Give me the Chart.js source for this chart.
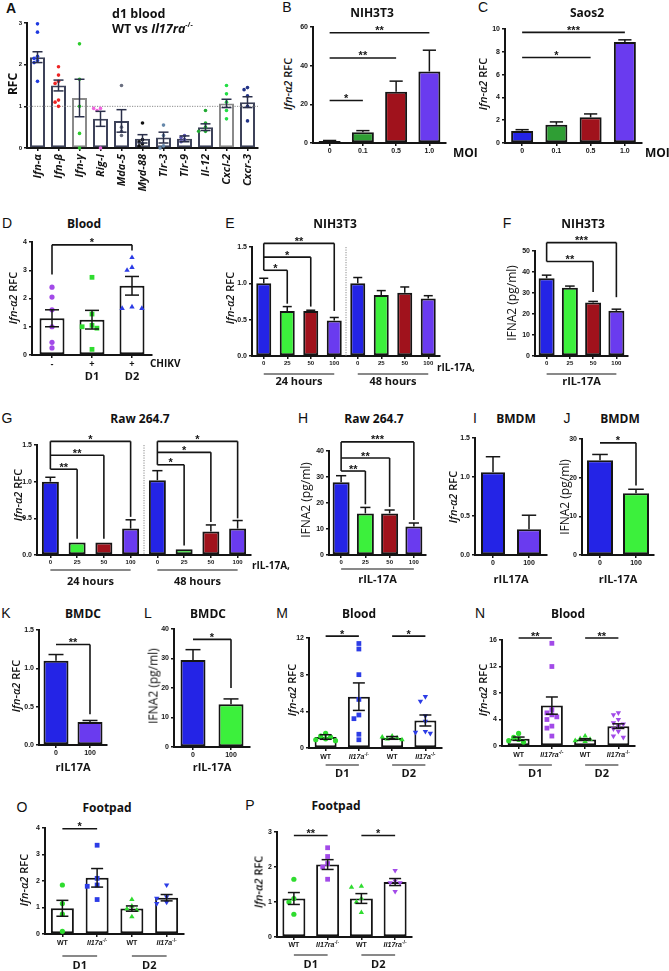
<!DOCTYPE html>
<html><head><meta charset="utf-8">
<script src="https://cdn.jsdelivr.net/npm/chart.js@4.4.1/dist/chart.umd.min.js"></script>
<style>
body{margin:0;background:#fff;width:669px;height:971px;position:relative;overflow:hidden;font-family:'Open Sans',sans-serif;color:#111}
.t{position:absolute;white-space:nowrap;font-weight:700;font-size:12px;transform:translate(-50%,-50%)}
.tl{position:absolute;white-space:nowrap;font-weight:700;font-size:12.5px;transform:translate(0,-50%)}
.lt{position:absolute;font-family:'Liberation Sans',Arial,sans-serif;font-size:14px;transform:translate(-50%,-50%)}
.yl{position:absolute;white-space:nowrap;transform:translate(-50%,-50%) rotate(-90deg);font-size:11px;font-weight:600}
.rl{position:absolute;white-space:nowrap;font-weight:700;transform:translate(0,-50%)}
canvas{position:absolute}
</style></head><body>
<script>
// ---------- DATA ----------
const aCats=['Ifn-α','Ifn-β','Ifn-γ','Rig-I','Mda-5','Myd-88','Tlr-3','Tlr-9','Il-12','Cxcl-2','Cxcr-3'];
const aVals=[2.18,1.5,1.2,0.7,0.65,0.22,0.25,0.22,0.5,1.07,1.1];
const aErr=[0.13,0.13,0.45,0.18,0.27,0.1,0.13,0.07,0.08,0.1,0.13];
const aPts=[[2.98,2.78,2.2,2.15,2.1,2.05,1.6],[1.95,1.75,1.6,1.55,1.15,1.1,1.0],[2.5,1.65,1.0,0.35,0.0],[0.95,0.95,0.9,0.0],[1.5,0.5,0.4,0.3],[0.6,0.2,0.15,0.1,0.05],[0.55,0.3,0.05,0.0],[0.3,0.25,0.2,0.15],[0.9,0.6,0.5,0.4,0.4],[1.5,1.3,1.1,0.9,0.7],[1.45,1.4,1.25,1.0,0.65]];
const aTicks={min:0,max:3,step:1};

const moiCats=['0','0.1','0.5','1.0'];
const bVals=[1,5.5,26.5,37], bErr=[0.3,0.9,5.5,11];
const bBr=[{from:0,to:1,y:22,s:'*'},{from:0,to:2,y:44,s:'**'},{from:0,to:3,y:57,s:'**'}];
const cVals=[1.05,1.6,2.25,8.85], cErr=[0.12,0.25,0.3,0.2];
const cBr=[{from:0,to:2,y:7.5,s:'*'},{from:0,to:3,y:9.7,s:'***'}];

const dCats=['-','+','+'];
const dVals=[1.3,1.25,2.45], dErr=[0.3,0.33,0.33];
const dPts=[[2.4,2.05,1.6,1.0,0.45,0.25],[2.75,1.45,1.05,1.0,0.95,0.2],[3.45,3.1,3.0,1.7,1.65,1.65]];
const dBr=[{from:0,to:2,y:3.9,s:'*',dropFrom:2.85,dropTo:3.7}];

const doseCats8=['0','25','50','100','0','25','50','100'];
const doseCats4=['0','25','50','100'];
const eVals=[1.0,0.62,0.62,0.49,1.0,0.84,0.87,0.79], eErr=[0.07,0.06,0.01,0.04,0.08,0.06,0.08,0.04];
const eBr=[{from:0,to:1,y:1.18,s:'*',dropTo:0.72},{from:0,to:2,y:1.36,s:'*',dropTo:0.68},{from:0,to:3,y:1.55,s:'**',dropTo:0.62}];
const fVals=[37,32.5,25.5,21.5], fErr=[1.5,0.8,0.5,0.8];
const fBr=[{from:0,to:2,y:45,s:'**',dropTo:30.5},{from:0,to:3,y:54,s:'***',dropTo:28}];
const gVals=[1.0,0.17,0.17,0.36,1.02,0.08,0.32,0.36], gErr=[0.06,0,0,0.12,0.13,0,0.09,0.11];
const gBr=[{from:0,to:1,y:1.17,s:'**',dropTo:0.22},{from:0,to:2,y:1.36,s:'**',dropTo:0.22},{from:0,to:3,y:1.55,s:'*',dropTo:0.52},
           {from:4,to:5,y:1.23,s:'*',dropTo:0.13},{from:4,to:6,y:1.4,s:'*',dropTo:0.45},{from:4,to:7,y:1.55,s:'*',dropTo:0.5}];
const hVals=[28,16,16,11], hErr=[2.5,2.3,1.3,1.3];
const hBr=[{from:0,to:1,y:32.3,s:'**',dropTo:19.5},{from:0,to:2,y:37.3,s:'**',dropTo:18.5},{from:0,to:3,y:43.5,s:'***',dropTo:13.5}];
const dose2=['0','100'];
const iVals=[1.06,0.33], iErr=[0.2,0.18];
const jVals=[24.5,16], jErr=[1.5,1];
const jBr=[{from:0,to:1,y:29,s:'*',dropTo:18}];
const kVals=[1.1,0.3], kErr=[0.08,0.02];
const kBr=[{from:0,to:1,y:1.31,s:'**',dropTo:0.4}];
const lVals=[29.5,14.5], lErr=[3.5,1.8];
const lBr=[{from:0,to:1,y:36.5,s:'*',dropTo:20}];

const koCatsA=['WT','Il17a','WT','Il17a'];
const koCatsRA=['WT','Il17ra','WT','Il17ra'];
const mVals=[1.2,5.6,1.1,3.0], mErr=[0.25,1.5,0.15,0.6];
const mPts=[[1.6,1.3,1.2,1.0,0.9,0.8],[11.4,10.8,8.0,5.3,3.6,3.2,1.5,0.9],[1.3,1.2,1.1,1.0,0.9],[5.6,5.1,3.5,2.9,1.8,1.7,1.6]];
const mBr=[{from:0,to:1,y:12.2,s:'*'},{from:2,to:3,y:12.2,s:'*'}];
const nVals=[1.1,6.1,1.0,3.0], nErr=[0.25,1.3,0.1,0.35];
const nPts=[[1.9,1.3,1.0,0.8,0.6],[15.5,12.0,5.5,5.0,4.7,4.4,4.0,3.0,2.7,1.5],[1.5,1.1,1.0,0.8,0.7],[5.0,4.7,4.0,3.5,3.3,3.0,2.6,2.2,1.5,1.3]];
const nBr=[{from:0,to:1,y:16.3,s:'**'},{from:2,to:3,y:16.3,s:'**'}];
const oVals=[0.97,2.12,0.96,1.37], oErr=[0.3,0.35,0.1,0.12];
const oPts=[[1.85,1.15,0.75,0.1],[3.35,2.1,1.85,1.8,1.3],[1.3,1.05,0.95,0.9,0.65],[1.85,1.4,1.35,1.2,1.15]];
const oBr=[{from:0,to:1,y:3.97,s:'*'}];
const pVals=[1.1,2.07,1.1,1.57], pErr=[0.17,0.14,0.14,0.1];
const pPts=[[1.65,1.1,1.0,0.65],[2.55,2.3,2.1,2.0,1.65],[1.45,1.42,1.1,1.0,0.7],[1.9,1.6,1.55,1.55,1.3]];
const pBr=[{from:0,to:1,y:2.9,s:'**'},{from:2,to:3,y:2.9,s:'*'}];
const dayGroups=[{from:0,to:1,t:'D1'},{from:2,to:3,t:'D2'}];

// ---------- STYLE ----------
const AX='#151515';
const BLUE='#2424e6', LIME='#3cf03c', DGREEN='#2f9e34', RED='#a0121c', VIOLET='#6a3bef';
const GR='#2fdc2f', PUR='#a24ae8', BLU='#2c3ce6';
const TF={family:'Liberation Sans',weight:'bold',size:7};
const TF6={family:'Liberation Sans',weight:'bold',size:6};

// horizontal spread (pixels) of dots sharing a category, so they do not overlap
function swarmPx(ys,r,spread){
  const order=ys.map((v,i)=>i).sort((a,b)=>ys[a]-ys[b]);
  const placed=[],res=new Array(ys.length);
  const cands=[0];for(let s=1;s<8;s++)cands.push(-s,s);
  for(const i of order){
    const y=ys[i];let off=0;
    for(const c of cands){const x=c*r*spread;if(placed.every(p=>(p.x-x)**2+(p.y-y)**2>=(2*r)**2)){off=x;break;}}
    placed.push({x:off,y});res[i]=off;
  }
  return res;
}
function ln(ctx,x1,y1,x2,y2){ctx.beginPath();ctx.moveTo(x1,y1);ctx.lineTo(x2,y2);ctx.stroke();}

function decor(p){
  return {id:'decor',
  afterDatasetsDraw(ch){
    const ctx=ch.ctx,ys=ch.scales.y,xs=ch.scales.x,ca=ch.chartArea,meta=ch.getDatasetMeta(0);
    ctx.save();
    if(p.ref!=null){ctx.strokeStyle='#8a8a8a';ctx.lineWidth=1;ctx.setLineDash([1.2,1.3]);const y=ys.getPixelForValue(p.ref);ln(ctx,ca.left,y,ca.right,y);ctx.setLineDash([]);}
    if(p.sep!=null){ctx.strokeStyle='#8a8a8a';ctx.lineWidth=1;ctx.setLineDash([1.2,1.3]);const x=(xs.getPixelForValue(Math.floor(p.sep))+xs.getPixelForValue(Math.ceil(p.sep)))/2;ln(ctx,x,ca.top,x,ca.bottom);ctx.setLineDash([]);}
    if(p.pts){
      const r=p.r||2.6;
      p.pts.forEach((vals,i)=>{
        const cx=xs.getPixelForValue(i),py=vals.map(v=>ys.getPixelForValue(v)),off=swarmPx(py,r,p.spread||1.9);
        const st=p.shape?p.shape[i]:'circle';
        ctx.fillStyle=p.dot[i];ctx.strokeStyle=p.dot[i];
        py.forEach((y,k)=>{
          Chart.helpers.drawPoint(ctx,{pointStyle:st,rotation:p.rot?p.rot[i]:0,radius:st==='rect'?r*1.3:(st==='triangle'?r*1.2:r),borderWidth:0},cx+off[k],y);
        });
      });
    }
    p.err.forEach((e,i)=>{
      if(!e)return;const el=meta.data[i],x=el.x,v=p.vals[i];
      const yt=ys.getPixelForValue(v+e),yb=ys.getPixelForValue(p.mode==='both'?v-e:v);
      const cw=p.cap!=null?p.cap:el.width*0.3;
      ctx.strokeStyle=p.errColor||AX;ctx.lineWidth=1.5;
      ln(ctx,x,yt,x,yb);ln(ctx,x-cw,yt,x+cw,yt);if(p.mode==='both')ln(ctx,x-cw,yb,x+cw,yb);
    });
    ctx.restore();
  },
  afterDraw(ch){
    const ctx=ch.ctx,ys=ch.scales.y,xs=ch.scales.x,ca=ch.chartArea;
    ctx.save();ctx.strokeStyle=AX;ctx.fillStyle=AX;
    if(p.br){
      ctx.lineWidth=1.6;ctx.font='700 11px "Liberation Sans"';ctx.textAlign='center';ctx.textBaseline='alphabetic';
      const joins={};
      p.br.forEach(b=>{
        const x1=xs.getPixelForValue(b.from),x2=xs.getPixelForValue(b.to),y=ys.getPixelForValue(b.y);
        ln(ctx,x1,y,x2,y);
        if(b.dropTo!=null)ln(ctx,x2,y,x2,ys.getPixelForValue(b.dropTo));
        if(b.dropFrom!=null)ln(ctx,x1,y,x1,ys.getPixelForValue(b.dropFrom));
        ctx.fillText(b.s,(x1+x2)/2,y+1.5);
        if(p.join){(joins[b.from]=joins[b.from]||[]).push(y);}
      });
      for(const k in joins){const a=joins[k];if(a.length>1){const x=xs.getPixelForValue(+k);ln(ctx,x,Math.min(...a),x,Math.max(...a));}}
    }
    if(p.xl){
      ctx.textBaseline='middle';
      p.cats.forEach((t,i)=>{
        const x=xs.getPixelForValue(i),y=ca.bottom+p.xlDy;
        if(t==='WT'){ctx.font='700 7px "Liberation Sans"';ctx.textAlign='center';ctx.fillText(t,x,y);}
        else{ctx.font='italic 700 7px "Liberation Sans"';const w1=ctx.measureText(t).width;ctx.font='700 5px "Liberation Sans"';const w2=ctx.measureText('-/-').width;
          const sx=x-(w1+w2)/2;ctx.textAlign='left';ctx.font='italic 700 7px "Liberation Sans"';ctx.fillText(t,sx,y);ctx.font='700 5px "Liberation Sans"';ctx.fillText('-/-',sx+w1,y-2.5);}
      });
    }
    if(p.groups){
      p.groups.forEach(g=>{
        const x1=xs.getPixelForValue(g.from),x2=xs.getPixelForValue(g.to);
        if(g.line!==false&&p.gLine!=null){ctx.lineWidth=1.2;ln(ctx,x1-(p.gExt||0),ca.bottom+p.gLine,x2+(p.gExt||0),ca.bottom+p.gLine);}
        ctx.font=p.gFont||'700 11px "Open Sans"';ctx.textAlign='center';ctx.textBaseline='middle';
        ctx.fillText(g.t,(x1+x2)/2,ca.bottom+p.gText);
      });
    }
    ctx.restore();
  }};
}

function panel(p){
  const n=p.cats.length,yW=p.yW||16,padT=p.padT||8,padR=p.padR||4,xH=p.xH||16;
  const W=yW+p.w+padR,H=padT+p.h+xH;
  const cv=document.createElement('canvas');cv.width=W;cv.height=H;
  cv.style.left=(p.x-yW)+'px';cv.style.top=(p.y-padT)+'px';cv.style.width=W+'px';cv.style.height=H+'px';
  document.body.appendChild(cv);
  const catPx=p.w/n;
  const ds=[{type:'bar',data:p.vals,backgroundColor:p.fill,borderColor:p.stroke||AX,borderWidth:p.bwid||2,borderSkipped:false,
    barPercentage:p.bw/catPx,categoryPercentage:1}];
  const grid={display:true,drawOnChartArea:false,drawTicks:true,tickLength:3,color:AX,tickColor:AX,tickWidth:1.5,lineWidth:1.5};
  new Chart(cv,{type:'bar',data:{labels:p.cats,datasets:ds},
    options:{responsive:false,animation:false,devicePixelRatio:1,events:[],
      layout:{padding:{top:padT,right:padR,left:0,bottom:0}},
      plugins:{legend:{display:false},tooltip:{enabled:false}},
      scales:{
        x:{type:'category',offset:true,grid:Object.assign({},grid,{offset:false}),border:{display:true,color:AX,width:2},
          ticks:{display:!p.xl&&p.xt!==false,autoSkip:false,maxRotation:p.xrot||0,minRotation:p.xrot||0,padding:p.xpad!=null?p.xpad:1,color:AX,font:p.xfont||TF},
          afterFit:s=>{s.height=xH;s.paddingLeft=s.paddingRight=s.paddingTop=s.paddingBottom=0;}},
        y:{type:'linear',min:p.yMin||0,max:p.yMax,grid:grid,border:{display:true,color:AX,width:2},
          ticks:{stepSize:p.step,padding:2,color:AX,font:p.yfont||TF,callback:v=>Number(v).toFixed(p.yDec||0)},
          afterFit:s=>{s.width=yW;s.paddingLeft=s.paddingRight=s.paddingTop=s.paddingBottom=0;}}
      }},
    plugins:[decor(p)]});
}

function txt(cls,html,x,y,extra){const d=document.createElement('div');d.className=cls;d.innerHTML=html;d.style.left=x+'px';d.style.top=y+'px';if(extra)Object.assign(d.style,extra);document.body.appendChild(d);}

// ---------- PANELS ----------
const aStroke=['#3d4259','#3d4259','#8a8a8a','#3d4259','#3d4259','#3d4259','#3d4259','#3d4259','#3d4259','#8a8a8a','#3d4259'];
const aDots=['#1f3ae0','#ee2424','#2ccc2c','#ee66dd','#6a6f80','#111111','#6688aa','#5a55b0','#22aa33','#22dd44','#223388'];
panel({cats:aCats,vals:aVals,err:aErr,mode:'both',cap:5,x:27,y:23,w:231,h:125,yMax:aTicks.max,yMin:aTicks.min,step:aTicks.step,yW:12,padT:6,xH:55,
  bw:15,fill:'#ffffff',stroke:aStroke,errColor:'#2a2f4a',pts:aPts,dot:aDots,r:1.8,ref:1,xrot:90,xpad:3,
  xfont:{family:'Open Sans',style:'italic',weight:'bold',size:11},yfont:TF6});
panel({cats:moiCats,vals:bVals,err:bErr,mode:'up',x:313,y:27,w:133,h:116,yMax:60,step:20,bw:22,fill:[BLUE,DGREEN,RED,VIOLET],br:bBr});
panel({cats:moiCats,vals:cVals,err:cErr,mode:'up',x:505,y:29,w:137,h:114,yMax:10,step:2,bw:22,fill:[BLUE,DGREEN,RED,VIOLET],br:cBr});
panel({cats:dCats,vals:dVals,err:dErr,mode:'both',cap:7,x:32,y:242,w:120,h:113,yMax:4,step:1,bw:25,fill:'#ffffff',pts:dPts,
  shape:['circle','rect','triangle'],dot:[PUR,GR,BLU],br:dBr,xH:30,xfont:{family:'Liberation Sans',weight:'bold',size:9},
  groups:[{from:1,to:1,t:'D1',line:false},{from:2,to:2,t:'D2',line:false}],gText:22});
panel({cats:doseCats8,vals:eVals,err:eErr,mode:'up',x:252,y:247,w:188,h:109,yMax:1.5,step:0.5,yDec:1,bw:15,padT:18,xH:34,
  fill:[BLUE,LIME,RED,VIOLET,BLUE,LIME,RED,VIOLET],br:eBr,join:true,sep:3.5,xfont:TF6,
  groups:[{from:0,to:3,t:'24 hours'},{from:4,to:7,t:'48 hours'}],gLine:18,gText:26});
panel({cats:doseCats4,vals:fVals,err:fErr,mode:'up',x:535,y:251,w:93,h:105,yMax:50,step:10,bw:16,padT:20,xH:34,
  fill:[BLUE,LIME,RED,VIOLET],br:fBr,join:true,xfont:TF6,groups:[{from:0,to:3,t:'rIL-17A'}],gLine:18,gText:26});
panel({cats:doseCats8,vals:gVals,err:gErr,mode:'up',x:37,y:445,w:214,h:110,yMax:1.5,step:0.5,yDec:1,bw:17,padT:18,xH:36,
  fill:[BLUE,LIME,RED,VIOLET,BLUE,LIME,RED,VIOLET],br:gBr,join:true,sep:3.5,xfont:TF6,
  groups:[{from:0,to:3,t:'24 hours'},{from:4,to:7,t:'48 hours'}],gLine:15,gText:27});
panel({cats:doseCats4,vals:hVals,err:hErr,mode:'up',x:329,y:451,w:97,h:104,yMax:40,step:10,bw:17,padT:22,xH:34,
  fill:[BLUE,LIME,RED,VIOLET],br:hBr,join:true,xfont:TF6,groups:[{from:0,to:3,t:'rIL-17A'}],gLine:14,gText:25});
panel({cats:dose2,vals:iVals,err:iErr,mode:'up',x:475,y:438,w:72,h:117,yMax:1.5,step:0.5,yDec:1,bw:24,xH:34,
  fill:[BLUE,VIOLET],groups:[{from:0,to:1,t:'rIL17A',line:false}],gText:25});
panel({cats:dose2,vals:jVals,err:jErr,mode:'up',x:582,y:439,w:72,h:116,yMax:30,step:10,bw:26,xH:34,
  fill:[BLUE,LIME],br:jBr,groups:[{from:0,to:1,t:'rIL-17A',line:false}],gText:25});
panel({cats:dose2,vals:kVals,err:kErr,mode:'up',x:39,y:630,w:68,h:115,yMax:1.5,step:0.5,yDec:1,bw:25,xH:32,
  fill:[BLUE,VIOLET],br:kBr,groups:[{from:0,to:1,t:'rIL17A',line:false}],gText:23});
panel({cats:dose2,vals:lVals,err:lErr,mode:'up',x:174,y:629,w:76,h:118,yMax:40,step:10,bw:25,xH:32,
  fill:[BLUE,LIME],br:lBr,groups:[{from:0,to:1,t:'rIL-17A',line:false}],gText:21});
const koShapes=['circle','rect','triangle','triangle'],koRot=[0,0,0,180];
panel({cats:koCatsA,vals:mVals,err:mErr,mode:'both',cap:6,x:309,y:638,w:133,h:110,yMax:12,step:4,bw:22,fill:'#ffffff',xH:34,
  pts:mPts,shape:koShapes,rot:koRot,dot:[GR,BLU,GR,BLU],br:mBr,xl:true,xlDy:9,groups:dayGroups,gLine:17,gText:26});
panel({cats:koCatsRA,vals:nVals,err:nErr,mode:'both',cap:6,x:502,y:640,w:133,h:106,yMax:16,step:4,bw:22,fill:'#ffffff',xH:34,
  pts:nPts,shape:koShapes,rot:koRot,dot:[GR,PUR,GR,PUR],br:nBr,xl:true,xlDy:9,groups:dayGroups,gLine:19,gText:28});
panel({cats:koCatsA,vals:oVals,err:oErr,mode:'both',cap:6,x:45,y:828,w:139,h:106,yMax:4,step:1,bw:23,fill:'#ffffff',xH:40,
  pts:oPts,shape:koShapes,rot:koRot,dot:[GR,BLU,GR,BLU],br:oBr,xl:true,xlDy:9,groups:dayGroups,gLine:22,gText:32});
panel({cats:koCatsRA,vals:pVals,err:pErr,mode:'both',cap:6,x:277,y:832,w:135,h:105,yMax:3,step:1,bw:23,fill:'#ffffff',xH:40,
  pts:pPts,shape:koShapes,rot:koRot,dot:[GR,PUR,GR,PUR],br:pBr,xl:true,xlDy:8,groups:dayGroups,gLine:18,gText:28});

// ---------- TEXT ----------
const letters=[['A',11,8,true],['B',287,7],['C',483,7],['D',7,223],['E',230,223],['F',507,223],['G',7,418],['H',303,418],['I',475,418],['J',567,418],
  ['K',6,613],['L',148,613],['M',282,613],['N',480,613],['O',22,807],['P',250,805]];
letters.forEach(l=>txt('lt',l[0],l[1],l[2],l[3]?{fontWeight:'700'}:null));
txt('tl','d1 blood',112,13);
txt('tl','WT vs <i>Il17ra</i><sup style="font-size:7px">-/-</sup>',112,28);
[['NIH3T3',372,12],['Saos2',587,12],['Blood',84,223],['NIH3T3',335,223],['NIH3T3',583,223],['Raw 264.7',140,418],['Raw 264.7',374,418],
 ['BMDM',516,418],['BMDM',620,418],['BMDC',83,613],['BMDC',208,613],['Blood',359,613],['Blood',568,613],['Footpad',107,807],['Footpad',336,805]]
 .forEach(t=>txt('t',t[0],t[1],t[2]));
const IFN='<i>Ifn-α2</i> RFC', PG='IFNA2 (pg/ml)';
const PGS={fontSize:'12px',fontWeight:'500'};
txt('yl','RFC',12,84,{fontSize:'12px',fontWeight:'700'});
[[IFN,287,84],[IFN,482,84],[IFN,12,298],[IFN,229,298],[IFN,17,495],[IFN,452,497],
 [IFN,15,686],[IFN,291,690],[IFN,482,690],[IFN,23,880],[IFN,258,882]].forEach(t=>txt('yl',t[0],t[1],t[2]));
[[PG,511,303],[PG,305,500],[PG,564,497],[PG,153,686]].forEach(t=>txt('yl',t[0],t[1],t[2],PGS));
txt('rl','MOI',453,152,{fontSize:'12px'});
txt('rl','MOI',645,152,{fontSize:'12px'});
txt('rl','CHIKV',150,363,{fontSize:'10px'});
txt('rl','rIL-17A,',437,367,{fontSize:'10px'});
txt('rl','rIL-17A,',252,565,{fontSize:'10px'});
</script>
</body></html>
